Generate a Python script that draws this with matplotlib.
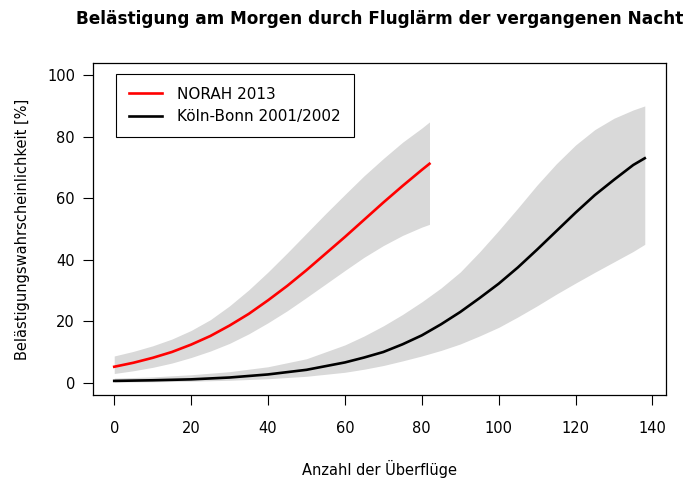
import numpy as np
import matplotlib
matplotlib.use('Agg')
import matplotlib.pyplot as plt

plt.rcParams['font.family'] = ['DejaVu Sans']

# NORAH 2013
norah_x = [0, 5, 10, 15, 20, 25, 30, 35, 40, 45, 50, 55, 60, 65, 70, 75, 80, 82]
norah_y = [5.2, 6.5, 8.1, 10.0, 12.4, 15.2, 18.6, 22.4, 26.8, 31.5, 36.6, 42.0,
           47.4, 53.0, 58.6, 64.0, 69.2, 71.2]
norah_hi = [8.7, 10.2, 12.0, 14.2, 17.0, 20.5, 25.0, 30.2, 36.0, 42.2, 48.6, 55.0,
            61.2, 67.3, 72.9, 78.2, 82.8, 84.8]
norah_lo = [3.0, 3.9, 5.0, 6.4, 8.2, 10.3, 12.8, 15.9, 19.5, 23.4, 27.7, 32.1,
            36.5, 40.8, 44.6, 47.9, 50.6, 51.5]

# Köln-Bonn 2001/2002
kb_x = [0, 10, 20, 30, 40, 50, 60, 65, 70, 75, 80, 85, 90, 95, 100, 105, 110,
        115, 120, 125, 130, 135, 138]
kb_y = [0.6, 0.8, 1.1, 1.7, 2.7, 4.2, 6.6, 8.2, 10.0, 12.5, 15.4, 19.0, 23.0,
        27.5, 32.2, 37.5, 43.3, 49.3, 55.3, 61.0, 66.0, 70.8, 73.0]
kb_hi = [1.5, 1.9, 2.6, 3.6, 5.2, 7.8, 12.3, 15.2, 18.5, 22.2, 26.3, 30.8, 36.0,
         42.5, 49.5, 56.8, 64.3, 71.2, 77.3, 82.3, 86.0, 88.7, 90.0]
kb_lo = [0.2, 0.3, 0.5, 0.8, 1.3, 2.1, 3.4, 4.4, 5.6, 7.1, 8.7, 10.5, 12.6,
         15.2, 18.0, 21.4, 25.0, 28.8, 32.4, 35.9, 39.3, 42.7, 45.0]

x_ticks = [0, 20, 40, 60, 80, 100, 120, 140]
y_ticks = [0, 20, 40, 60, 80, 100]

fig = plt.figure(figsize=(6.89, 4.8), dpi=100)
ax = fig.add_axes([0.135, 0.177, 0.8316, 0.692])

band = '#d9d9d9'
ax.fill_between(norah_x, norah_lo, norah_hi, color=band, lw=0)
ax.fill_between(kb_x, kb_lo, kb_hi, color=band, lw=0)
ax.plot(norah_x, norah_y, color='red', lw=1.9, label='NORAH 2013')
ax.plot(kb_x, kb_y, color='black', lw=1.9, label='Köln-Bonn 2001/2002')

ax.set_xlim(-5.52, 143.52)
ax.set_ylim(-4, 104)
ax.set_xticks(x_ticks)
ax.set_yticks(y_ticks)
ax.tick_params(direction='out', length=7, width=0.8, labelsize=10.5, pad=6)
ax.tick_params(axis='x', pad=12)
for s in ax.spines.values():
    s.set_linewidth(0.9)

ax.set_xlabel('Anzahl der Überflüge', fontsize=10.5, labelpad=17)
ax.set_ylabel('Belästigungswahrscheinlichkeit [%]', fontsize=10.5, labelpad=12)
ax.set_title('Belästigung am Morgen durch Fluglärm der vergangenen Nacht',
             fontsize=12.2, fontweight='bold', pad=28)

leg = ax.legend(loc='upper left', bbox_to_anchor=(0.026, 0.99), fontsize=11,
                fancybox=False, framealpha=1, edgecolor='black',
                handlelength=2.2, handletextpad=1.0, borderpad=0.85,
                labelspacing=0.5)
leg.get_frame().set_linewidth(0.8)

plt.savefig('out.png', dpi=100)
